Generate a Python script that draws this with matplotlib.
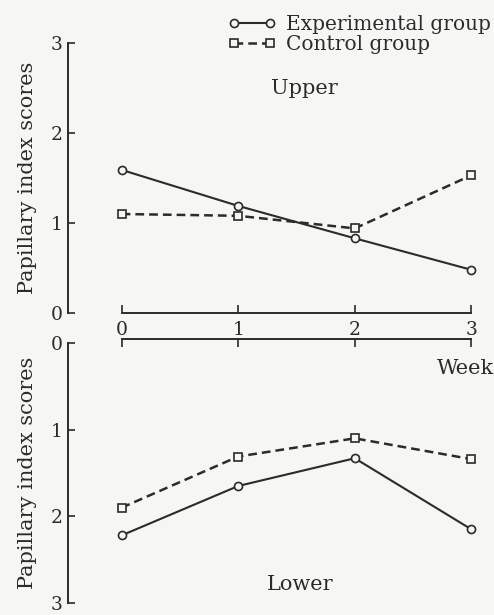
import matplotlib.pyplot as plt
from matplotlib.lines import Line2D

# Werte
weeks = [0, 1, 2, 3]
upper_exp = [1.59, 1.19, 0.83, 0.48]
upper_ctl = [1.10, 1.08, 0.94, 1.53]
lower_exp = [2.22, 1.65, 1.33, 2.15]
lower_ctl = [1.90, 1.31, 1.10, 1.34]
yticks = [0, 1, 2, 3]

ink = '#2b2b2b'
bg = '#f6f6f4'
plt.rcParams['font.family'] = ['DejaVu Serif']
plt.rcParams['text.color'] = ink

W, H = 494, 615
fig = plt.figure(figsize=(W / 100, H / 100), dpi=100, facecolor=bg)


def box(x0, y_top, x1, y_bot):
    # Pixelkoordinaten -> Figurkoordinaten
    return [x0 / W, (H - y_bot) / H, (x1 - x0) / W, (y_bot - y_top) / H]


ax1 = fig.add_axes(box(68, 43, 490, 313))
ax2 = fig.add_axes(box(68, 343, 490, 603))

xlim = (-0.46, 3.16)
exp_style = dict(color=ink, lw=1.5, marker='o', ms=5.8, mfc=bg, mec=ink, mew=1.2)
ctl_style = dict(color=ink, lw=1.8, ls=(0, (3.5, 2)), marker='s', ms=6.2, mfc=bg, mec=ink, mew=1.2)

for ax, e, c in [(ax1, upper_exp, upper_ctl), (ax2, lower_exp, lower_ctl)]:
    ax.set_facecolor('none')
    ax.plot(weeks, c, **ctl_style, zorder=3)
    ax.plot(weeks, e, **exp_style, zorder=4)
    ax.set_xlim(*xlim)
    ax.set_ylim(0, 3)
    ax.set_yticks(yticks)
    ax.tick_params(axis='y', direction='in', length=5, width=1.2, color=ink,
                   labelsize=13.5, pad=4, labelcolor=ink)
    for s in ['right', 'top', 'bottom']:
        ax.spines[s].set_visible(False)
    ax.spines['left'].set_linewidth(1.4)
    ax.spines['left'].set_color(ink)
    ax.set_ylabel('Papillary index scores', fontsize=15, color=ink, labelpad=10)

# oberes Diagramm: Wochenachse unten
ax1.spines['bottom'].set_visible(True)
ax1.spines['bottom'].set_bounds(0, 3)
ax1.spines['bottom'].set_linewidth(1.4)
ax1.spines['bottom'].set_color(ink)
ax1.set_xticks(weeks)
ax1.tick_params(axis='x', direction='in', length=6, width=1.2, color=ink,
                labelsize=13.5, pad=6, labelcolor=ink)

# unteres Diagramm: umgekehrte Achse, Wochenachse oben
ax2.invert_yaxis()
ax2.spines['top'].set_visible(True)
ax2.spines['top'].set_bounds(0, 3)
ax2.spines['top'].set_linewidth(1.4)
ax2.spines['top'].set_color(ink)
ax2.spines['top'].set_position(('outward', 3))
ax2.set_xticks(weeks)
ax2.tick_params(axis='x', direction='in', length=6, width=1.2, color=ink,
                top=True, bottom=False, labeltop=False, labelbottom=False)

ax1.text(0.56, 0.83, 'Upper', transform=ax1.transAxes, ha='center', va='center', fontsize=15)
ax2.text(0.55, 0.07, 'Lower', transform=ax2.transAxes, ha='center', va='center', fontsize=15)
fig.text(494 / W, 1 - 369 / H, 'Week', ha='right', va='center', fontsize=15)

handles = [Line2D([], [], **exp_style), Line2D([], [], **ctl_style)]
fig.legend(handles, ['Experimental group', 'Control group'], loc='upper left',
           bbox_to_anchor=(218 / W, 1 - 5 / H), frameon=False, fontsize=14.5,
           numpoints=2, handlelength=2.4, handletextpad=0.5, labelspacing=0.05,
           borderpad=0)

fig.savefig('out.png', dpi=100, facecolor=bg)
